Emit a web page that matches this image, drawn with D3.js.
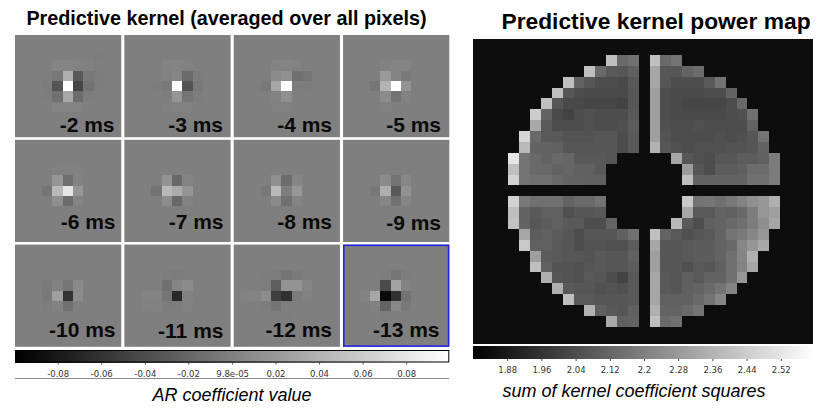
<!DOCTYPE html>
<html><head><meta charset="utf-8">
<script src="https://cdn.jsdelivr.net/npm/d3@7/dist/d3.min.js"></script>
<style>html,body{margin:0;padding:0;background:#fff}svg{display:block}</style>
</head><body><svg id="c" width="826" height="413"></svg>
<script>
const lags = [-2,-3,-4,-5,-6,-7,-8,-9,-10,-11,-12,-13];
const kernelTicks = [-0.08,-0.06,-0.04,-0.02,0.000098,0.02,0.04,0.06,0.08];
const kernelTickLabels = ["-0.08","-0.06","-0.04","-0.02","9.8e-05","0.02","0.04","0.06","0.08"];
const powerTicks = [1.88,1.96,2.04,2.12,2.2,2.28,2.36,2.44,2.52];
const powerTickLabels = ["1.88","1.96","2.04","2.12","2.2","2.28","2.36","2.44","2.52"];

// AR coefficients, central part of each kernel (7 rows x 9 columns)
const k2 = [
[0,0,0,0,0,0,-.001,-.002,-.001],
[0,0,0,.004,.004,.002,.001,-.001,-.001],
[0,0,-.001,-.006,.037,-.03,-.006,-.003,-.001],
[0,-.001,-.003,-.034,.1,-.046,-.01,-.002,-.001],
[0,-.001,-.002,-.012,.032,-.015,-.002,-.001,0],
[0,0,0,.003,.004,.003,0,0,0],
[0,0,0,0,0,0,0,0,0]];
const k3 = [
[0,0,0,0,0,0,0,0,0],
[0,0,0,.003,.004,.002,0,0,0],
[0,0,0,.002,.005,-.016,-.003,-.001,0],
[0,-.001,-.003,-.005,.1,-.035,-.006,-.001,0],
[0,0,0,-.001,.018,-.008,-.002,0,0],
[0,0,0,.001,.002,.001,0,0,0],
[0,0,0,0,0,0,0,0,0]];
const k4 = [
[0,0,0,0,0,0,0,0,0],
[0,0,0,.003,.004,.002,0,0,0],
[0,0,-.001,.009,.013,-.012,-.008,-.001,0],
[0,-.001,-.006,.03,.1,-.002,-.003,-.001,0],
[0,0,0,.003,.012,0,0,0,0],
[0,0,0,.001,.001,0,0,0,0],
[0,0,0,0,0,0,0,0,0]];
const k5 = [
[0,0,0,0,0,0,0,0,0],
[0,0,0,.002,.003,.003,0,0,0],
[0,0,0,.02,.002,-.004,0,0,0],
[0,-.001,-.007,.04,.1,.015,-.001,0,0],
[0,0,0,.01,-.009,.002,0,0,0],
[0,0,0,.001,0,0,0,0,0],
[0,0,0,0,0,0,0,0,0]];
const k6 = [
[0,0,0,0,0,0,0,0,0],
[0,0,0,.001,.001,.001,0,0,0],
[0,0,0,.018,-.013,.003,0,0,0],
[0,-.001,-.008,.045,.08,.018,0,0,0],
[0,0,0,.012,-.015,.004,0,0,0],
[0,0,0,0,0,0,0,0,0],
[0,0,0,0,0,0,0,0,0]];
const k7 = [
[0,0,0,0,0,0,0,0,0],
[0,0,0,0,0,0,0,0,0],
[0,0,0,.015,-.018,.003,0,0,0],
[0,-.001,-.01,.045,.035,.017,0,0,0],
[0,0,0,.01,-.018,.002,0,0,0],
[0,0,0,0,0,0,0,0,0],
[0,0,0,0,0,0,0,0,0]];
const k8 = [
[0,0,0,0,0,0,0,0,0],
[0,0,0,0,0,0,0,0,0],
[0,0,0,.012,-.014,.005,0,0,0],
[0,0,-.006,.045,-.001,.018,0,0,0],
[0,0,0,.008,-.012,.004,0,0,0],
[0,0,0,0,0,0,0,0,0],
[0,0,0,0,0,0,0,0,0]];
const k9 = [
[0,0,0,0,0,0,0,0,0],
[0,0,0,0,-.001,0,0,0,0],
[0,0,0,.009,-.01,.006,0,0,0],
[0,0,-.005,.037,-.03,.014,0,0,0],
[0,0,0,.005,-.011,.004,0,0,0],
[0,0,0,0,0,0,0,0,0],
[0,0,0,0,0,0,0,0,0]];
const k10 = [
[0,0,0,0,0,0,0,0,0],
[0,0,0,0,-.002,-.001,0,0,0],
[0,0,-.004,.001,-.008,.008,0,0,0],
[0,0,-.005,.025,-.06,.01,0,0,0],
[0,0,-.002,.002,-.012,0,0,0,0],
[0,0,0,0,0,0,0,0,0],
[0,0,0,0,0,0,0,0,0]];
const k11 = [
[0,0,0,0,0,0,0,0,0],
[0,0,0,-.002,-.003,-.002,0,0,0],
[0,0,0,-.012,.004,.009,0,0,0],
[0,.003,.003,-.007,-.068,.002,0,0,0],
[0,.002,.001,-.003,-.002,.001,0,0,0],
[0,0,0,0,0,0,0,0,0],
[0,0,0,0,0,0,0,0,0]];
const k12 = [
[0,0,0,0,0,0,0,0,0],
[0,0,-.002,-.003,-.008,-.004,-.001,0,0],
[0,0,-.001,-.026,.015,.015,.005,0,0],
[.002,.003,.01,-.05,-.062,-.003,.001,0,0],
[0,0,-.002,-.008,-.001,-.001,0,0,0],
[0,0,0,-.001,-.001,0,0,0,0],
[0,0,0,0,0,0,0,0,0]];
const k13 = [
[0,0,0,0,0,0,0,0,0],
[0,0,0,-.001,-.008,-.002,0,0,0],
[0,0,0,-.042,.028,.003,0,0,0],
[0,.004,.03,-.092,-.061,-.01,0,0,0],
[0,0,.001,-.022,.006,-.005,0,0,0],
[0,0,0,-.002,0,0,0,0,0],
[0,0,0,0,0,0,0,0,0]];
const kernels = [k2,k3,k4,k5,k6,k7,k8,k9,k10,k11,k12,k13];

// Sum of coefficient squares for each of the four quadrants (null = no pixel)
const _ = null;
const powerTL = [
[_,_,_,_,_,_,_,_,_,2.40,2.13,2.15],
[_,_,_,_,_,_,_,2.40,2.13,2.08,2.07,2.10],
[_,_,_,_,_,2.40,2.11,2.07,2.04,2.04,2.03,2.08],
[_,_,_,_,2.40,2.07,2.04,2.03,2.03,2.03,2.03,2.07],
[_,_,_,2.40,2.07,2.03,2.03,2.02,2.02,2.02,2.01,2.07],
[_,_,2.44,2.11,2.03,2.01,2.04,2.05,2.04,2.04,2.04,2.08],
[_,_,2.33,2.08,2.04,2.04,2.04,2.05,2.04,2.04,2.05,2.09],
[_,2.47,2.13,2.08,2.08,2.06,2.06,2.06,2.07,2.07,2.04,2.08],
[_,2.38,2.11,2.11,2.10,2.07,2.07,2.07,2.07,2.07,2.04,2.08],
[2.52,2.16,2.13,2.11,2.13,2.12,2.08,2.08,2.08,2.07,_,_],
[2.40,2.16,2.13,2.13,2.11,2.12,2.10,2.10,2.08,_,_,_],
[2.46,2.16,2.15,2.15,2.13,2.11,2.11,2.10,2.10,_,_,_]];
const powerTR = [
[2.40,2.13,2.16,_,_,_,_,_,_,_,_,_],
[2.32,2.07,2.07,2.11,2.14,_,_,_,_,_,_,_],
[2.32,2.07,2.04,2.04,2.04,2.08,2.16,_,_,_,_,_],
[2.30,2.04,2.03,2.03,2.03,2.04,2.04,2.11,_,_,_,_],
[2.30,2.04,2.03,2.02,2.02,2.02,2.02,2.04,2.13,_,_,_],
[2.30,2.04,2.03,2.03,2.03,2.03,2.03,2.04,2.05,2.15,_,_],
[2.30,2.05,2.04,2.04,2.05,2.04,2.04,2.04,2.04,2.11,_,_],
[2.30,2.06,2.04,2.04,2.04,2.04,2.05,2.04,2.05,2.07,2.16,_],
[2.36,2.07,2.05,2.04,2.05,2.05,2.05,2.06,2.06,2.07,2.11,_],
[_,_,2.32,2.07,2.05,2.04,2.07,2.07,2.09,2.09,2.10,2.19],
[_,_,_,2.29,2.07,2.04,2.09,2.09,2.10,2.14,2.14,2.19],
[_,_,_,2.40,2.11,2.11,2.11,2.11,2.11,2.15,2.15,2.19]];
const powerBL = [
[2.46,2.18,2.15,2.15,2.15,2.11,2.13,2.13,2.16,_,_,_],
[2.40,2.11,2.08,2.10,2.10,2.05,2.07,2.07,2.08,_,_,_],
[2.41,2.11,2.07,2.09,2.10,2.08,2.08,2.04,2.04,2.11,_,_],
[_,2.32,2.09,2.10,2.09,2.07,2.04,2.07,2.07,2.07,2.10,2.15],
[_,2.43,2.10,2.10,2.08,2.07,2.04,2.06,2.06,2.05,2.05,2.09],
[_,_,2.30,2.09,2.08,2.07,2.07,2.06,2.08,2.07,2.07,2.10],
[_,_,2.40,2.10,2.06,2.06,2.05,2.07,2.08,2.07,2.07,2.09],
[_,_,_,2.35,2.07,2.06,2.05,2.08,2.07,2.04,2.01,2.08],
[_,_,_,_,2.35,2.08,2.07,2.07,2.05,2.06,2.05,2.08],
[_,_,_,_,_,2.40,2.08,2.08,2.07,2.07,2.07,2.08],
[_,_,_,_,_,_,_,2.36,2.10,2.08,2.07,2.10],
[_,_,_,_,_,_,_,_,_,2.33,2.10,2.11]];
const powerBR = [
[_,_,_,2.43,2.16,2.17,2.15,2.18,2.21,2.25,2.27,2.35],
[_,_,_,2.32,2.08,2.08,2.11,2.10,2.13,2.19,2.27,2.30],
[_,_,2.38,2.08,2.04,2.10,2.11,2.13,2.15,2.19,2.25,2.32],
[2.40,2.11,2.08,2.05,2.07,2.08,2.11,2.16,2.18,2.22,2.27,_],
[2.32,2.07,2.07,2.08,2.09,2.09,2.11,2.13,2.22,2.27,2.33,_],
[2.30,2.07,2.07,2.08,2.09,2.09,2.11,2.15,2.22,2.35,_,_],
[2.30,2.07,2.07,2.05,2.08,2.07,2.10,2.15,2.21,2.32,_,_],
[2.32,2.08,2.07,2.10,2.08,2.11,2.11,2.15,2.27,_,_,_],
[2.32,2.08,2.07,2.10,2.11,2.13,2.16,2.21,_,_,_,_],
[2.32,2.10,2.10,2.10,2.13,2.16,2.22,_,_,_,_,_],
[2.35,2.11,2.11,2.13,2.16,_,_,_,_,_,_,_],
[2.40,2.13,2.15,_,_,_,_,_,_,_,_,_]];

const svg = d3.select("#c");
const font = "'Liberation Sans',Arial,sans-serif";

const kernelColor = d3.scaleLinear().domain([-0.0996,0.0998]).range(["#000","#fff"]).clamp(true);
const powerColor  = d3.scaleLinear().domain([1.8,2.6]).range(["#000","#fff"]).clamp(true);

// ---- Kernel panels ----
const panelX = d3.scaleBand().domain(d3.range(4)).range([15,449.3]).paddingInner(0.0284);
const panelY = d3.scaleBand().domain(d3.range(3)).range([35,346.8]).paddingInner(0.0245);
const labelEnd = [114.5,223,332,441,115.5,223.5,332,441,115.5,223.5,332,439.5];
const labelBase = [131.7,131.7,131.5,131.5,229.3,229.3,228.5,230,336.7,338.3,336.7,336.7];
const cellW = 10.38, cellH = 10.3;

kernels.forEach((m,i)=>{
  const col=i%4,row=Math.floor(i/4);
  const px=panelX(col),py=panelY(row),pw=panelX.bandwidth(),ph=panelY.bandwidth();
  const g=svg.append("g");
  g.append("rect").attr("x",px).attr("y",py).attr("width",pw).attr("height",ph).attr("fill",kernelColor(0));
  const cx=px+pw/2-0.3, cy=py+ph/2;
  const xs=d3.scaleBand().domain(d3.range(9)).range([cx-4.5*cellW,cx+4.5*cellW]);
  const ys=d3.scaleBand().domain(d3.range(7)).range([cy-3.5*cellH,cy+3.5*cellH]);
  m.forEach((r,j)=>r.forEach((v,k)=>{
    if(v===0) return;
    g.append("rect").attr("x",xs(k)).attr("y",ys(j)).attr("width",xs.bandwidth()).attr("height",ys.bandwidth())
     .attr("shape-rendering","crispEdges").attr("fill",kernelColor(v));
  }));
  if(i===11){
    g.append("rect").attr("x",px+.75).attr("y",py+.75).attr("width",pw-1.5).attr("height",ph-1.5)
     .attr("fill","none").attr("stroke","#2222ee").attr("stroke-width",1.5);
  }
  g.append("text").attr("x",labelEnd[i]).attr("y",labelBase[i]).attr("text-anchor","end")
   .attr("font-family",font).attr("font-weight","bold").attr("font-size",21).attr("fill","#0a0a0a")
   .text(lags[i]+" ms");
});

// ---- Colour bars ----
function colorbar(x0,x1,y0,y1,dom,color,ticks,labels,border,pad){
  const x=d3.scaleLinear().domain(dom).range([x0,x1]);
  const g=svg.append("g");
  d3.range(Math.round(x0),Math.round(x1)).forEach(px=>{
    g.append("rect").attr("x",px).attr("y",y0).attr("width",1).attr("height",y1-y0)
     .attr("shape-rendering","crispEdges").attr("fill",color(x.invert(px+.5)));
  });
  if(border) g.append("rect").attr("x",x0+.5).attr("y",y0+.5).attr("width",x1-x0-1).attr("height",y1-y0-1)
     .attr("fill","none").attr("stroke","#000");
  const axis=d3.axisBottom(x).tickValues(ticks).tickFormat((d,i)=>labels[i]).tickSize(2).tickPadding(pad);
  const a=svg.append("g").attr("transform",`translate(0,${y1})`).call(axis);
  a.select(".domain").remove();
  a.selectAll(".tick line").attr("stroke","#444");
  a.selectAll("text").attr("font-family","'DejaVu Sans',sans-serif").attr("font-size",8.5).attr("fill","#333");
}
colorbar(15,449.3,350,362.5,[-0.0996,0.0998],kernelColor,kernelTicks,kernelTickLabels,true,6.5);
colorbar(473,815,346,359,[1.8,2.6],powerColor,powerTicks,powerTickLabels,false,6);

svg.append("line").attr("x1",15).attr("x2",449).attr("y1",378.5).attr("y2",378.5).attr("stroke","#8a8a8a");

// ---- Power map ----
const mapBackground = 1.84;
svg.append("rect").attr("x",473).attr("y",39).attr("width",340).attr("height",305).attr("fill",powerColor(mapBackground));
const mapX=d3.scaleBand().domain(d3.range(25)).range([508.3,780]);
const mapY=d3.scaleBand().domain(d3.range(25)).range([55,326.8]);
[[powerTL,0,0],[powerTR,13,0],[powerBL,0,13],[powerBR,13,13]].forEach(([m,c0,r0])=>{
  m.forEach((r,j)=>r.forEach((v,k)=>{
    if(v===null) return;
    svg.append("rect").attr("x",mapX(c0+k)).attr("y",mapY(r0+j))
     .attr("width",mapX.bandwidth()).attr("height",mapY.bandwidth())
     .attr("shape-rendering","crispEdges").attr("fill",powerColor(v));
  }));
});

// ---- Titles ----
function label(x,y,t,size,weight,style){
  svg.append("text").attr("x",x).attr("y",y).attr("text-anchor","middle").attr("font-family",font)
   .attr("font-size",size).attr("font-weight",weight).attr("font-style",style).attr("fill","#000").text(t);
}
label(226.5,25,"Predictive kernel (averaged over all pixels)",19.8,"bold","normal");
label(656,29,"Predictive kernel power map",22.8,"bold","normal");
label(232,401,"AR coefficient value",18,"normal","italic");
label(634,397,"sum of kernel coefficient squares",18,"normal","italic");
</script></body></html>
